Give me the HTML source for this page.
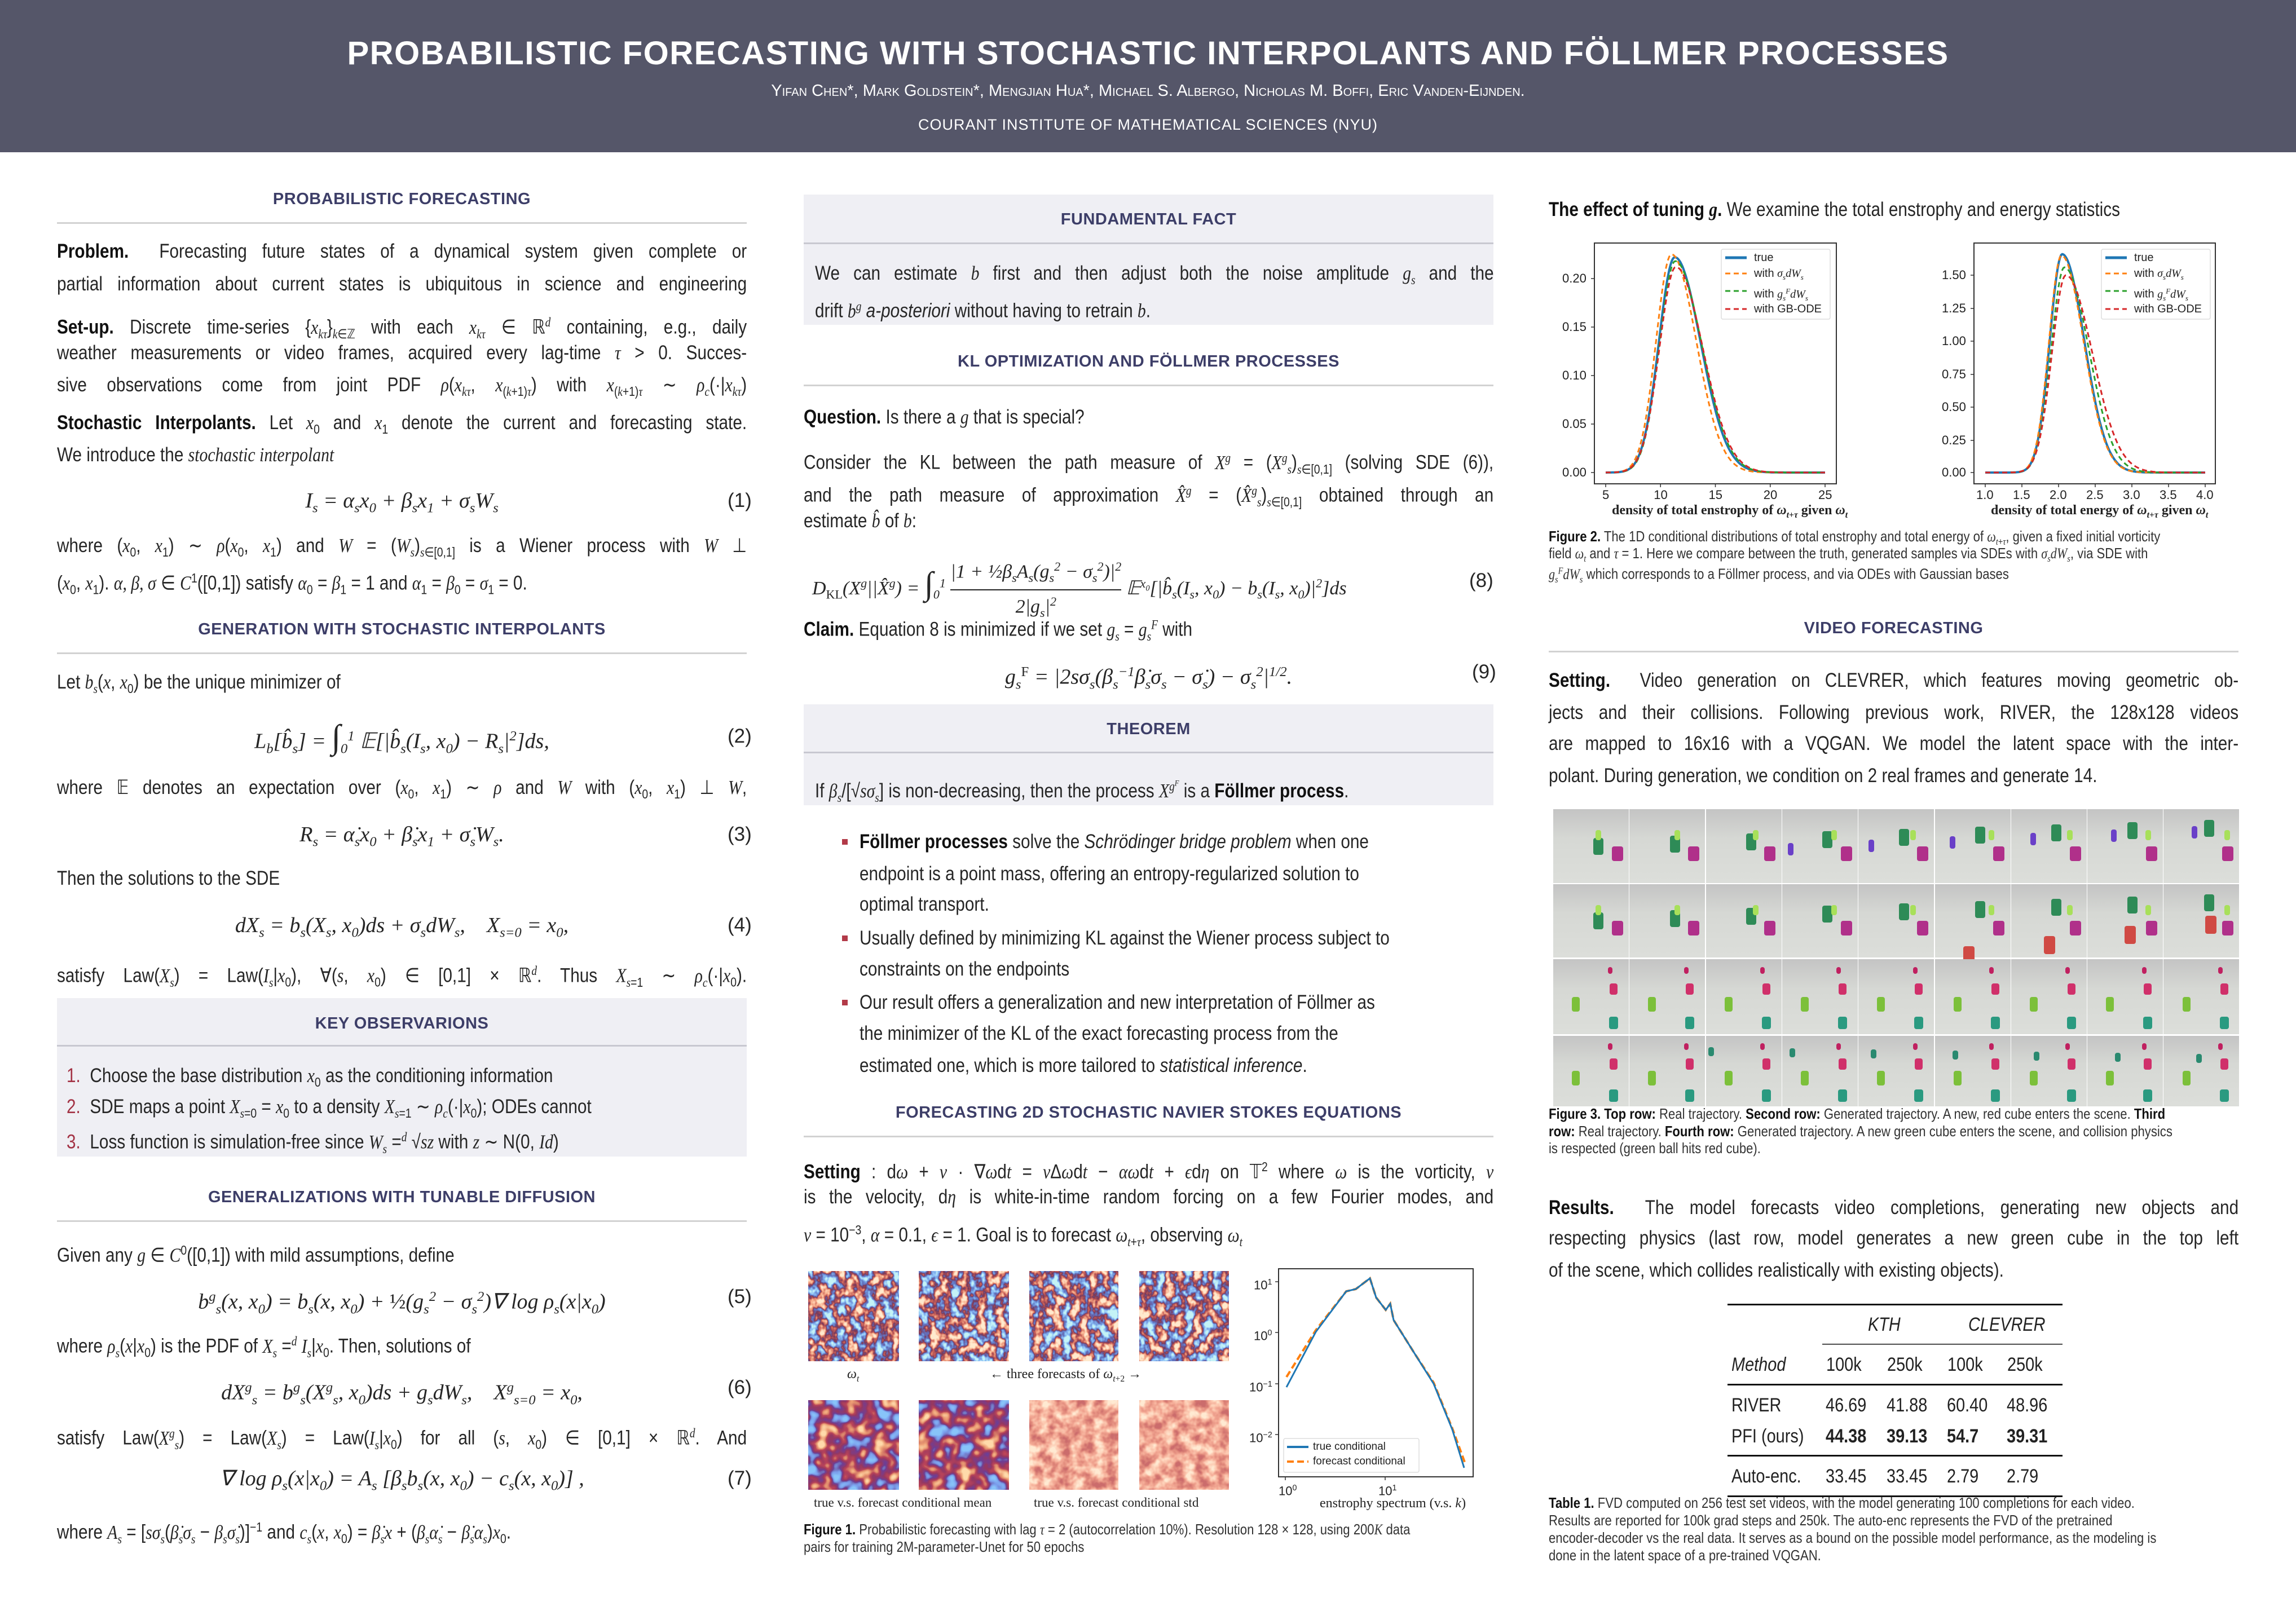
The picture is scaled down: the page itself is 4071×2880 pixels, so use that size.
<!DOCTYPE html>
<html><head><meta charset="utf-8">
<style>
*{margin:0;padding:0;box-sizing:border-box}
body{width:4071px;height:2880px;position:relative;background:#fff;overflow:hidden;font-family:"Liberation Sans",sans-serif;color:#262626}
.a{position:absolute}
#hd{left:0;top:0;width:4071px;height:270px;background:#555669}
.L{position:absolute;font-size:35px;line-height:44px;white-space:nowrap;transform:scaleX(.85);transform-origin:left top;color:#262626}
.c1{left:101px}.c2{left:1425px}.c3{left:2746px}
.J{width:1439px;text-align:justify;text-align-last:justify}
.H{position:absolute;width:1223px;text-align:center;font-weight:bold;font-size:29px;line-height:36px;color:#3d3e68;letter-spacing:.5px}
.R{position:absolute;width:1223px;height:3px;background:#d2d2d2}
.E{position:absolute;width:1223px;text-align:center;font-family:"Liberation Serif",serif;font-style:italic;font-size:38px;line-height:50px;white-space:nowrap}
.N{position:absolute;font-size:35px;line-height:50px;color:#262626}
.box{position:absolute;background:#efeff4}
i,.m{font-family:"Liberation Serif",serif;font-style:italic}
b{font-weight:bold;color:#111}
sub,sup{font-size:65%}
.cap{position:absolute;font-size:26px;line-height:30px;white-space:nowrap;transform:scaleX(.85);transform-origin:left top;color:#333}
.tk{position:absolute;font-size:22px;line-height:24px;color:#222;white-space:nowrap}
.fr{position:absolute;width:134px;height:130px;background:linear-gradient(#c4c4c4,#d6d8d4 40%,#dcdeda)}
.ob{position:absolute;border-radius:4px}
</style></head><body>
<div id="hd" class="a"></div>
<div class="a" style="left:0;top:62px;width:4071px;text-align:center;color:#fff;font-weight:bold;font-size:58px;line-height:66px;letter-spacing:1.5px">PROBABILISTIC FORECASTING WITH STOCHASTIC INTERPOLANTS AND FÖLLMER PROCESSES</div>
<div class="a" style="left:0;top:144px;width:4071px;text-align:center;color:#fff;font-size:29px;line-height:34px;font-variant:small-caps">Yifan Chen*, Mark Goldstein*, Mengjian Hua*, Michael S. Albergo, Nicholas M. Boffi, Eric Vanden-Eijnden.</div>
<div class="a" style="left:0;top:204px;width:4071px;text-align:center;color:#fff;font-size:27px;line-height:34px;letter-spacing:1px">COURANT INSTITUTE OF MATHEMATICAL SCIENCES (NYU)</div>

<!-- COLUMN 1 -->
<div class="H c1" style="top:335px">PROBABILISTIC FORECASTING</div>
<div class="R c1" style="top:394px"></div>
<div class="L c1 J" style="top:424px"><b>Problem.</b>&nbsp; Forecasting future states of a dynamical system given complete or</div>
<div class="L c1 J" style="top:482px">partial information about current states is ubiquitous in science and engineering</div>
<div class="L c1 J" style="top:549px"><b>Set-up.</b> Discrete time-series {<i>x<sub>kτ</sub></i>}<sub><i>k</i>∈ℤ</sub> with each <i>x<sub>kτ</sub></i> ∈ ℝ<sup><i>d</i></sup> containing, e.g., daily</div>
<div class="L c1 J" style="top:604px">weather measurements or video frames, acquired every lag-time <i>τ</i> &gt; 0. Succes-</div>
<div class="L c1 J" style="top:661px">sive observations come from joint PDF <i>ρ</i>(<i>x<sub>kτ</sub></i>, <i>x</i><sub>(<i>k</i>+1)<i>τ</i></sub>) with <i>x</i><sub>(<i>k</i>+1)<i>τ</i></sub> ∼ <i>ρ<sub>c</sub></i>(·|<i>x<sub>kτ</sub></i>)</div>
<div class="L c1 J" style="top:728px"><b>Stochastic Interpolants.</b> Let <i>x</i><sub>0</sub> and <i>x</i><sub>1</sub> denote the current and forecasting state.</div>
<div class="L c1" style="top:785px">We introduce the <i>stochastic interpolant</i></div>
<div class="E c1" style="top:863px">I<sub>s</sub> = α<sub>s</sub>x<sub>0</sub> + β<sub>s</sub>x<sub>1</sub> + σ<sub>s</sub>W<sub>s</sub></div>
<div class="N" style="left:1290px;top:863px">(1)</div>
<div class="L c1 J" style="top:946px">where (<i>x</i><sub>0</sub>, <i>x</i><sub>1</sub>) ∼ <i>ρ</i>(<i>x</i><sub>0</sub>, <i>x</i><sub>1</sub>) and <i>W</i> = (<i>W<sub>s</sub></i>)<sub><i>s</i>∈[0,1]</sub> is a Wiener process with <i>W</i> ⊥</div>
<div class="L c1" style="top:1003px">(<i>x</i><sub>0</sub>, <i>x</i><sub>1</sub>). <i>α, β, σ</i> ∈ <i>C</i><sup>1</sup>([0,1]) satisfy <i>α</i><sub>0</sub> = <i>β</i><sub>1</sub> = 1 and <i>α</i><sub>1</sub> = <i>β</i><sub>0</sub> = <i>σ</i><sub>1</sub> = 0.</div>
<div class="H c1" style="top:1098px">GENERATION WITH STOCHASTIC INTERPOLANTS</div>
<div class="R c1" style="top:1157px"></div>
<div class="L c1" style="top:1188px">Let <i>b<sub>s</sub></i>(<i>x</i>, <i>x</i><sub>0</sub>) be the unique minimizer of</div>
<div class="E c1" style="top:1281px">L<sub>b</sub>[b̂<sub>s</sub>] = <span style="font-size:60px;font-style:normal">∫</span><sub>0</sub><sup>1</sup> 𝔼[|b̂<sub>s</sub>(I<sub>s</sub>, x<sub>0</sub>) − R<sub>s</sub>|<sup>2</sup>]ds,</div>
<div class="N" style="left:1290px;top:1281px">(2)</div>
<div class="L c1 J" style="top:1375px">where 𝔼 denotes an expectation over (<i>x</i><sub>0</sub>, <i>x</i><sub>1</sub>) ∼ <i>ρ</i> and <i>W</i> with (<i>x</i><sub>0</sub>, <i>x</i><sub>1</sub>) ⊥ <i>W</i>,</div>
<div class="E c1" style="top:1455px">R<sub>s</sub> = α̇<sub>s</sub>x<sub>0</sub> + β̇<sub>s</sub>x<sub>1</sub> + σ̇<sub>s</sub>W<sub>s</sub>.</div>
<div class="N" style="left:1290px;top:1455px">(3)</div>
<div class="L c1" style="top:1536px">Then the solutions to the SDE</div>
<div class="E c1" style="top:1616px">dX<sub>s</sub> = b<sub>s</sub>(X<sub>s</sub>, x<sub>0</sub>)ds + σ<sub>s</sub>dW<sub>s</sub>, &nbsp;&nbsp; X<sub>s=0</sub> = x<sub>0</sub>,</div>
<div class="N" style="left:1290px;top:1616px">(4)</div>
<div class="L c1 J" style="top:1699px">satisfy Law(<i>X<sub>s</sub></i>) = Law(<i>I<sub>s</sub></i>|<i>x</i><sub>0</sub>), ∀(<i>s</i>, <i>x</i><sub>0</sub>) ∈ [0,1] × ℝ<sup><i>d</i></sup>. Thus <i>X</i><sub><i>s</i>=1</sub> ∼ <i>ρ<sub>c</sub></i>(·|<i>x</i><sub>0</sub>).</div>
<div class="box" style="left:101px;top:1770px;width:1223px;height:281px"></div>
<div class="H c1" style="top:1797px">KEY OBSERVARIONS</div>
<div class="R c1" style="top:1853px;background:#c8c8d0"></div>
<div class="L" style="left:118px;top:1886px"><span style="color:#a33345">1.</span>&nbsp; Choose the base distribution <i>x</i><sub>0</sub> as the conditioning information</div>
<div class="L" style="left:118px;top:1941px"><span style="color:#a33345">2.</span>&nbsp; SDE maps a point <i>X</i><sub><i>s</i>=0</sub> = <i>x</i><sub>0</sub> to a density <i>X</i><sub><i>s</i>=1</sub> ∼ <i>ρ<sub>c</sub></i>(·|<i>x</i><sub>0</sub>); ODEs cannot</div>
<div class="L" style="left:118px;top:1994px"><span style="color:#a33345">3.</span>&nbsp; Loss function is simulation-free since <i>W<sub>s</sub></i> =<sup><i>d</i></sup> √<i>sz</i> with <i>z</i> ∼ N(0, <i>Id</i>)</div>
<div class="H c1" style="top:2105px">GENERALIZATIONS WITH TUNABLE DIFFUSION</div>
<div class="R c1" style="top:2164px"></div>
<div class="L c1" style="top:2195px">Given any <i>g</i> ∈ <i>C</i><sup>0</sup>([0,1]) with mild assumptions, define</div>
<div class="E c1" style="top:2275px">b<sup>g</sup><sub>s</sub>(x, x<sub>0</sub>) = b<sub>s</sub>(x, x<sub>0</sub>) + <span style="font-style:normal">½</span>(g<sub>s</sub><sup>2</sup> − σ<sub>s</sub><sup>2</sup>)∇ log ρ<sub>s</sub>(x|x<sub>0</sub>)</div>
<div class="N" style="left:1290px;top:2275px">(5)</div>
<div class="L c1" style="top:2356px">where <i>ρ<sub>s</sub></i>(<i>x</i>|<i>x</i><sub>0</sub>) is the PDF of <i>X<sub>s</sub></i> =<sup><i>d</i></sup> <i>I<sub>s</sub></i>|<i>x</i><sub>0</sub>. Then, solutions of</div>
<div class="E c1" style="top:2436px">dX<sup>g</sup><sub>s</sub> = b<sup>g</sup><sub>s</sub>(X<sup>g</sup><sub>s</sub>, x<sub>0</sub>)ds + g<sub>s</sub>dW<sub>s</sub>, &nbsp;&nbsp; X<sup>g</sup><sub>s=0</sub> = x<sub>0</sub>,</div>
<div class="N" style="left:1290px;top:2436px">(6)</div>
<div class="L c1 J" style="top:2519px">satisfy Law(<i>X<sup>g</sup><sub>s</sub></i>) = Law(<i>X<sub>s</sub></i>) = Law(<i>I<sub>s</sub></i>|<i>x</i><sub>0</sub>) for all (<i>s</i>, <i>x</i><sub>0</sub>) ∈ [0,1] × ℝ<sup><i>d</i></sup>. And</div>
<div class="E c1" style="top:2597px">∇ log ρ<sub>s</sub>(x|x<sub>0</sub>) = A<sub>s</sub> [β<sub>s</sub>b<sub>s</sub>(x, x<sub>0</sub>) − c<sub>s</sub>(x, x<sub>0</sub>)] ,</div>
<div class="N" style="left:1290px;top:2597px">(7)</div>
<div class="L c1" style="top:2686px">where <i>A<sub>s</sub></i> = [<i>sσ<sub>s</sub></i>(<i>β̇<sub>s</sub>σ<sub>s</sub></i> − <i>β<sub>s</sub>σ̇<sub>s</sub></i>)]<sup>−1</sup> and <i>c<sub>s</sub></i>(<i>x</i>, <i>x</i><sub>0</sub>) = <i>β̇<sub>s</sub>x</i> + (<i>β<sub>s</sub>α̇<sub>s</sub></i> − <i>β̇<sub>s</sub>α<sub>s</sub></i>)<i>x</i><sub>0</sub>.</div>

<!-- COLUMN 2 -->
<div class="box" style="left:1425px;top:345px;width:1223px;height:231px"></div>
<div class="H c2" style="top:371px">FUNDAMENTAL FACT</div>
<div class="R c2" style="top:430px;background:#c8c8d0"></div>
<div class="L" style="left:1445px;top:463px;width:1416px;text-align:justify;text-align-last:justify">We can estimate <i>b</i> first and then adjust both the noise amplitude <i>g<sub>s</sub></i> and the</div>
<div class="L" style="left:1445px;top:521px">drift <i>b<sup>g</sup></i> <i style="font-family:'Liberation Sans'">a-posteriori</i> without having to retrain <i>b</i>.</div>
<div class="H c2" style="top:623px">KL OPTIMIZATION AND FÖLLMER PROCESSES</div>
<div class="R c2" style="top:682px"></div>
<div class="L c2" style="top:718px"><b>Question.</b> Is there a <i>g</i> that is special?</div>
<div class="L c2 J" style="top:790px">Consider the KL between the path measure of <i>X<sup>g</sup></i> = (<i>X<sup>g</sup><sub>s</sub></i>)<sub><i>s</i>∈[0,1]</sub> (solving SDE (6)),</div>
<div class="L c2 J" style="top:848px">and the path measure of approximation <i>X̂<sup>g</sup></i> = (<i>X̂<sup>g</sup><sub>s</sub></i>)<sub><i>s</i>∈[0,1]</sub> obtained through an</div>
<div class="L c2" style="top:902px">estimate <i>b̂</i> of <i>b</i>:</div>
<div class="E" style="left:1440px;width:1150px;top:985px;text-align:left;font-size:34px">D<sub style="font-style:normal">KL</sub>(X<sup>g</sup>||X̂<sup>g</sup>) = <span style="font-size:58px;font-style:normal">∫</span><sub>0</sub><sup>1</sup> <span style="display:inline-block;text-align:center;vertical-align:middle;line-height:40px"><span style="display:block;border-bottom:2px solid #222">|1 + ½β<sub>s</sub>A<sub>s</sub>(g<sub>s</sub><sup>2</sup> − σ<sub>s</sub><sup>2</sup>)|<sup>2</sup></span><span style="display:block">2|g<sub>s</sub>|<sup>2</sup></span></span> 𝔼<sup>x<sub>0</sub></sup>[|b̂<sub>s</sub>(I<sub>s</sub>, x<sub>0</sub>) − b<sub>s</sub>(I<sub>s</sub>, x<sub>0</sub>)|<sup>2</sup>]ds</div>
<div class="N" style="left:2605px;top:1005px">(8)</div>
<div class="L c2" style="top:1086px"><b>Claim.</b> Equation 8 is minimized if we set <i>g<sub>s</sub></i> = <i>g<sub>s</sub><sup>F</sup></i> with</div>
<div class="E c2" style="top:1167px">g<sub>s</sub><sup style="font-style:normal">F</sup> = |2sσ<sub>s</sub>(β<sub>s</sub><sup>−1</sup>β̇<sub>s</sub>σ<sub>s</sub> − σ̇<sub>s</sub>) − σ<sub>s</sub><sup>2</sup>|<sup>1/2</sup>.</div>
<div class="N" style="left:2610px;top:1167px">(9)</div>
<div class="box" style="left:1425px;top:1249px;width:1223px;height:179px"></div>
<div class="H c2" style="top:1275px">THEOREM</div>
<div class="R c2" style="top:1333px;background:#c8c8d0"></div>
<div class="L" style="left:1445px;top:1367px">If <i>β<sub>s</sub></i>/[√<i>sσ<sub>s</sub></i>] is non-decreasing, then the process <i>X<sup>g<sup>F</sup></sup></i> is a <b>Föllmer process</b>.</div>
<div class="a" style="left:1493px;top:1488px;width:10px;height:10px;background:#b23a48"></div>
<div class="L" style="left:1524px;top:1471px"><b>Föllmer processes</b> solve the <i style="font-family:'Liberation Sans'">Schrödinger bridge problem</i> when one</div>
<div class="L" style="left:1524px;top:1528px">endpoint is a point mass, offering an entropy-regularized solution to</div>
<div class="L" style="left:1524px;top:1582px">optimal transport.</div>
<div class="a" style="left:1493px;top:1659px;width:10px;height:10px;background:#b23a48"></div>
<div class="L" style="left:1524px;top:1642px">Usually defined by minimizing KL against the Wiener process subject to</div>
<div class="L" style="left:1524px;top:1697px">constraints on the endpoints</div>
<div class="a" style="left:1493px;top:1773px;width:10px;height:10px;background:#b23a48"></div>
<div class="L" style="left:1524px;top:1756px">Our result offers a generalization and new interpretation of Föllmer as</div>
<div class="L" style="left:1524px;top:1811px">the minimizer of the KL of the exact forecasting process from the</div>
<div class="L" style="left:1524px;top:1868px">estimated one, which is more tailored to <i style="font-family:'Liberation Sans'">statistical inference</i>.</div>
<div class="H c2" style="top:1955px">FORECASTING 2D STOCHASTIC NAVIER STOKES EQUATIONS</div>
<div class="R c2" style="top:2014px"></div>
<div class="L c2 J" style="top:2047px"><b>Setting</b> : d<i>ω</i> + <i>v</i> · ∇<i>ω</i>d<i>t</i> = <i>ν</i>Δ<i>ω</i>d<i>t</i> − <i>αω</i>d<i>t</i> + <i>ϵ</i>d<i>η</i> on 𝕋<sup>2</sup> where <i>ω</i> is the vorticity, <i>v</i></div>
<div class="L c2 J" style="top:2101px">is the velocity, d<i>η</i> is white-in-time random forcing on a few Fourier modes, and</div>
<div class="L c2" style="top:2159px"><i>ν</i> = 10<sup>−3</sup>, <i>α</i> = 0.1, <i>ϵ</i> = 1. Goal is to forecast <i>ω</i><sub><i>t</i>+<i>τ</i></sub>, observing <i>ω<sub>t</sub></i></div>

<svg class="a" style="left:0;top:0" width="4071" height="2880">
<defs>
<filter id="vort" x="0" y="0" width="100%" height="100%">
<feTurbulence type="fractalNoise" baseFrequency="0.06 0.05" numOctaves="3" seed="3"/>
<feColorMatrix type="matrix" values="2.2 0 0 0 -0.6 2.2 0 0 0 -0.6 2.2 0 0 0 -0.6 0 0 0 0 1"/>
<feComponentTransfer><feFuncR type="table" tableValues="0.55 0.25 0.12 0.18 0.6 0.95 1"/><feFuncG type="table" tableValues="0.9 0.5 0.18 0.04 0.12 0.45 0.82"/><feFuncB type="table" tableValues="0.92 0.92 0.55 0.1 0.1 0.28 0.62"/><feFuncA type="discrete" tableValues="1"/></feComponentTransfer>
</filter>
<filter id="vort2" x="0" y="0" width="100%" height="100%">
<feTurbulence type="fractalNoise" baseFrequency="0.04" numOctaves="2" seed="8"/>
<feColorMatrix type="matrix" values="2 0 0 0 -0.5 2 0 0 0 -0.5 2 0 0 0 -0.5 0 0 0 0 1"/>
<feComponentTransfer><feFuncR type="table" tableValues="0.25 0.2 0.15 0.3 0.5 0.85 1"/><feFuncG type="table" tableValues="0.55 0.35 0.05 0.04 0.06 0.35 0.7"/><feFuncB type="table" tableValues="0.95 0.85 0.3 0.12 0.1 0.18 0.4"/><feFuncA type="discrete" tableValues="1"/></feComponentTransfer>
</filter>
<filter id="stdf" x="0" y="0" width="100%" height="100%">
<feTurbulence type="fractalNoise" baseFrequency="0.05" numOctaves="3" seed="5"/>
<feColorMatrix type="matrix" values="2 0 0 0 -0.5 2 0 0 0 -0.5 2 0 0 0 -0.5 0 0 0 0 1"/>
<feComponentTransfer><feFuncR type="table" tableValues="1 0.98 0.9 0.75 0.6"/><feFuncG type="table" tableValues="0.82 0.6 0.4 0.25 0.15"/><feFuncB type="table" tableValues="0.65 0.45 0.3 0.2 0.15"/><feFuncA type="discrete" tableValues="1"/></feComponentTransfer>
</filter>
</defs>
<rect x="1433" y="2254" width="161" height="160" filter="url(#vort)"/>
<rect x="1629" y="2254" width="160" height="160" filter="url(#vort)"/>
<rect x="1825" y="2254" width="158" height="160" filter="url(#vort)"/>
<rect x="2020" y="2254" width="159" height="160" filter="url(#vort)"/>
<rect x="1433" y="2483" width="161" height="159" filter="url(#vort2)"/>
<rect x="1629" y="2483" width="160" height="159" filter="url(#vort2)"/>
<rect x="1825" y="2483" width="158" height="159" filter="url(#stdf)"/>
<rect x="2020" y="2483" width="159" height="159" filter="url(#stdf)"/>
<rect x="2267" y="2250" width="345" height="369" fill="none" stroke="#333" stroke-width="2"/>
<g stroke="#333" stroke-width="1.5">
<line x1="2267" y1="2273" x2="2261" y2="2273"/><line x1="2267" y1="2363" x2="2261" y2="2363"/><line x1="2267" y1="2454" x2="2261" y2="2454"/><line x1="2267" y1="2544" x2="2261" y2="2544"/>
<line x1="2279" y1="2619" x2="2279" y2="2625"/><line x1="2456" y1="2619" x2="2456" y2="2625"/>
</g>
<polyline fill="none" stroke="#ff7f0e" stroke-width="4" stroke-dasharray="12,6" points="2281,2442 2333,2359 2387,2290 2404,2286 2429,2267 2440,2301 2457,2323 2465,2312 2471,2341 2508,2400 2542,2452 2575,2533 2597,2593"/>
<polyline fill="none" stroke="#1f77b4" stroke-width="3" points="2281,2460 2333,2362 2387,2290 2404,2286 2429,2267 2440,2301 2457,2323 2465,2312 2471,2341 2508,2400 2542,2454 2575,2535 2596,2603"/>
<rect x="2276" y="2551" width="240" height="60" fill="#fff" stroke="#ddd" stroke-width="1.5" rx="3"/>
<line x1="2282" y1="2566" x2="2320" y2="2566" stroke="#1f77b4" stroke-width="4"/>
<line x1="2282" y1="2592" x2="2320" y2="2592" stroke="#ff7f0e" stroke-width="4" stroke-dasharray="12,6"/>
<rect x="2827" y="431" width="429" height="427" fill="none" stroke="#333" stroke-width="2"/>
<rect x="3500" y="431" width="428" height="427" fill="none" stroke="#333" stroke-width="2"/>
<g id="ticks" stroke="#333" stroke-width="1.5"></g>
<g id="curves" fill="none"></g>
<rect x="3052" y="442" width="193" height="124" fill="#fff" stroke="#ddd" stroke-width="1.5" rx="3"/>
<rect x="3726" y="442" width="193" height="124" fill="#fff" stroke="#ddd" stroke-width="1.5" rx="3"/>
<g id="leg"></g>
<g fill="#111"><rect x="3063" y="2312" width="594" height="3"/><rect x="3231" y="2383" width="426" height="1.5"/><rect x="3063" y="2454" width="594" height="3"/><rect x="3063" y="2580" width="594" height="3"/><rect x="3063" y="2652" width="594" height="3"/></g>
</svg>
<div class="tk" style="left:2223px;top:2262px">10<sup>1</sup></div>
<div class="tk" style="left:2223px;top:2352px">10<sup>0</sup></div>
<div class="tk" style="left:2215px;top:2443px">10<sup>−1</sup></div>
<div class="tk" style="left:2215px;top:2533px">10<sup>−2</sup></div>
<div class="tk" style="left:2267px;top:2627px">10<sup>0</sup></div>
<div class="tk" style="left:2444px;top:2627px">10<sup>1</sup></div>
<div class="tk" style="left:2328px;top:2554px;font-size:19px">true conditional</div>
<div class="tk" style="left:2328px;top:2580px;font-size:19px">forecast conditional</div>
<div class="tk m" style="left:2340px;top:2654px;font-style:normal;font-size:24px">enstrophy spectrum (v.s. <i>k</i>)</div>
<div class="tk m" style="left:1502px;top:2425px;font-size:24px">ω<sub>t</sub></div>
<div class="tk m" style="left:1755px;top:2425px;font-style:normal;font-size:24px">← three forecasts of <i>ω</i><sub><i>t</i>+2</sub> →</div>
<div class="tk m" style="left:1443px;top:2653px;font-style:normal;font-size:23px">true v.s. forecast conditional mean</div>
<div class="tk m" style="left:1833px;top:2653px;font-style:normal;font-size:23px">true v.s. forecast conditional std</div>
<div class="cap" style="left:1425px;top:2697px"><b>Figure 1.</b> Probabilistic forecasting with lag <i>τ</i> = 2 (autocorrelation 10%). Resolution 128 × 128, using 200<i>K</i> data</div>
<div class="cap" style="left:1425px;top:2728px">pairs for training 2M-parameter-Unet for 50 epochs</div>

<!-- COLUMN 3 -->
<div class="L c3" style="top:350px"><b>The effect of tuning <i>g</i>.</b> We examine the total enstrophy and energy statistics</div>
<div class="tk m" style="left:2858px;top:893px;font-style:normal;font-size:24px;font-weight:bold">density of total enstrophy of <i>ω</i><sub><i>t</i>+<i>τ</i></sub> given <i>ω<sub>t</sub></i></div>
<div class="tk m" style="left:3530px;top:893px;font-style:normal;font-size:24px;font-weight:bold">density of total energy of <i>ω</i><sub><i>t</i>+<i>τ</i></sub> given <i>ω<sub>t</sub></i></div>
<div class="cap" style="left:2746px;top:936px"><b>Figure 2.</b> The 1D conditional distributions of total enstrophy and total energy of <i>ω</i><sub><i>t</i>+<i>τ</i></sub>, given a fixed initial vorticity</div>
<div class="cap" style="left:2746px;top:966px">field <i>ω<sub>t</sub></i> and <i>τ</i> = 1. Here we compare between the truth, generated samples via SDEs with <i>σ<sub>s</sub>dW<sub>s</sub></i>, via SDE with</div>
<div class="cap" style="left:2746px;top:997px"><i>g<sub>s</sub><sup>F</sup>dW<sub>s</sub></i> which corresponds to a Föllmer process, and via ODEs with Gaussian bases</div>
<div class="H c3" style="top:1096px">VIDEO FORECASTING</div>
<div class="R c3" style="top:1154px"></div>
<div class="L c3 J" style="top:1185px"><b>Setting.</b>&nbsp; Video generation on CLEVRER, which features moving geometric ob-</div>
<div class="L c3 J" style="top:1242px">jects and their collisions. Following previous work, RIVER, the 128x128 videos</div>
<div class="L c3 J" style="top:1297px">are mapped to 16x16 with a VQGAN. We model the latent space with the inter-</div>
<div class="L c3" style="top:1354px">polant. During generation, we condition on 2 real frames and generate 14.</div>
<div id="grid"></div>
<div class="cap" style="left:2746px;top:1960px"><b>Figure 3. Top row:</b> Real trajectory. <b>Second row:</b> Generated trajectory. A new, red cube enters the scene. <b>Third</b></div>
<div class="cap" style="left:2746px;top:1991px"><b>row:</b> Real trajectory. <b>Fourth row:</b> Generated trajectory. A new green cube enters the scene, and collision physics</div>
<div class="cap" style="left:2746px;top:2021px">is respected (green ball hits red cube).</div>
<div class="L c3 J" style="top:2120px"><b>Results.</b>&nbsp; The model forecasts video completions, generating new objects and</div>
<div class="L c3 J" style="top:2174px">respecting physics (last row, model generates a new green cube in the top left</div>
<div class="L c3" style="top:2231px">of the scene, which collides realistically with existing objects).</div>
<div class="cap" style="left:2746px;top:2650px"><b>Table 1.</b> FVD computed on 256 test set videos, with the model generating 100 completions for each video.</div>
<div class="cap" style="left:2746px;top:2681px">Results are reported for 100k grad steps and 250k. The auto-enc represents the FVD of the pretrained</div>
<div class="cap" style="left:2746px;top:2712px">encoder-decoder vs the real data. It serves as a bound on the possible model performance, as the modeling is</div>
<div class="cap" style="left:2746px;top:2743px">done in the latent space of a pre-trained VQGAN.</div>

<script>
var NS="http://www.w3.org/2000/svg";
function el(p,t,a){var e=document.createElementNS(NS,t);for(var k in a)e.setAttribute(k,a[k]);p.appendChild(e);return e;}
var tk=document.getElementById('ticks'),cv=document.getElementById('curves'),lg=document.getElementById('leg');
function div(l,t,txt,st){var d=document.createElement('div');d.className='tk';d.style.left=l+'px';d.style.top=t+'px';d.innerHTML=txt;if(st)d.style.cssText+=st;document.body.appendChild(d);}
[[0.2,494],[0.15,580],[0.1,666],[0.05,752],[0,838]].forEach(function(p){el(tk,'line',{x1:2827,y1:p[1],x2:2821,y2:p[1]});div(2770,p[1]-12,p[0].toFixed(2));});
[5,10,15,20,25].forEach(function(v){var x=2847+(v-5)*19.45;el(tk,'line',{x1:x,y1:858,x2:x,y2:864});div(x-(v<10?6:12),866,v);});
[[1.5,488],[1.25,547],[1,605],[0.75,664],[0.5,722],[0.25,781],[0,838]].forEach(function(p){el(tk,'line',{x1:3500,y1:p[1],x2:3494,y2:p[1]});div(3443,p[1]-12,p[0].toFixed(2));});
for(var v=1;v<=4.01;v+=0.5){var x=3520+(v-1)*130;el(tk,'line',{x1:x,y1:858,x2:x,y2:864});div(x-16,866,v.toFixed(1));}
function curve(x0,x1,pk,h,sl,sr,X,Y,col,dash,w){var pts=[];for(var i=0;i<=200;i++){var v=x0+(x1-x0)*i/200;var s=v<pk?sl:sr;var f=h*Math.exp(-0.5*Math.pow((v-pk)/s,2));pts.push(X(v).toFixed(1)+','+Y(f).toFixed(1));}
var a={points:pts.join(' '),stroke:col,'stroke-width':w};if(dash)a['stroke-dasharray']=dash;el(cv,'polyline',a);}
var X1=function(v){return 2847+(v-5)*19.45},Y1=function(f){return 838-f*1720};
var X2=function(v){return 3520+(v-1)*130},Y2=function(f){return 838-f*233.3};
var C=[['#1f77b4',null,4],['#ff7f0e','9,6',3],['#2ca02c','9,6',3],['#d62728','9,6',3]];
var P1=[[11.3,0.222,1.45,2.35],[11.0,0.225,1.4,2.25],[11.35,0.218,1.45,2.4],[11.4,0.212,1.5,2.45]];
var P2=[[2.05,1.66,0.17,0.3],[2.04,1.65,0.17,0.3],[2.08,1.56,0.18,0.33],[2.1,1.50,0.19,0.36]];
for(var i=0;i<4;i++){curve(5,25,P1[i][0],P1[i][1],P1[i][2],P1[i][3],X1,Y1,C[i][0],C[i][1],C[i][2]);curve(1,4,P2[i][0],P2[i][1],P2[i][2],P2[i][3],X2,Y2,C[i][0],C[i][1],C[i][2]);}
var lab=['true','with <i>σ<sub>s</sub>dW<sub>s</sub></i>','with <i>g<sub>s</sub><sup>F</sup>dW<sub>s</sub></i>','with GB-ODE'];
[3052,3726].forEach(function(bx){[457,485,516,548].forEach(function(y,i){var a={x1:bx+7,y1:y,x2:bx+45,y2:y,stroke:C[i][0],'stroke-width':i?3:5};if(C[i][1])a['stroke-dasharray']=C[i][1];el(lg,'line',a);div(bx+58,y-12,lab[i],'font-size:20px');});});
var g=document.getElementById('grid');
var rows=[[1435,131],[1568,130],[1701,133],[1837,125]];
var objs=[
[[0.6,0.5,'#2e8b57',18,30],[0.85,0.6,'#b0308a',20,26],[0.6,0.35,'#a8e05a',10,18]],
[[0.6,0.5,'#2e8b57',18,30],[0.85,0.6,'#b0308a',20,26],[0.6,0.35,'#a8e05a',10,18]],
[[0.8,0.4,'#d0306a',14,20],[0.75,0.15,'#c02060',8,12],[0.3,0.6,'#7cc03a',14,26],[0.8,0.85,'#2a9a80',16,22]],
[[0.8,0.4,'#d0306a',14,20],[0.75,0.15,'#c02060',8,12],[0.3,0.6,'#7cc03a',14,26],[0.8,0.85,'#2a9a80',16,22]]];
rows.forEach(function(r,ri){for(var c=0;c<9;c++){var d=document.createElement('div');d.className='fr';d.style.left=(2754+c*135.3)+'px';d.style.top=r[0]+'px';d.style.height=r[1]+'px';
objs[ri].forEach(function(o,oi){var s=document.createElement('div');s.className='ob';s.style.left=(o[0]*134-o[3]/2+(oi==2&&ri<2?c*4:0))+'px';s.style.top=(o[1]*r[1]-o[4]/2-(ri<2?c*4:0)*(oi==0?1:0))+'px';s.style.width=o[3]+'px';s.style.height=o[4]+'px';s.style.background=o[2];d.appendChild(s);});
if(ri==1&&c>=5){var s=document.createElement('div');s.className='ob';s.style.cssText='left:'+(50+(c-5)*8)+'px;top:'+(110-(c-5)*18)+'px;width:20px;height:32px;background:#d04a44';d.appendChild(s);}
if(ri==0&&c>=3){var s=document.createElement('div');s.className='ob';s.style.cssText='left:'+(10+(c-3)*8)+'px;top:'+(60-(c-3)*6)+'px;width:10px;height:22px;background:#6a40c8';d.appendChild(s);}
if(ri==3&&c>=2){var s=document.createElement('div');s.className='ob';s.style.cssText='left:'+(4+(c-2)*9)+'px;top:'+(20+(c-2)*2)+'px;width:10px;height:16px;background:#2a8a70';d.appendChild(s);}
g.appendChild(d);}});
function td(x,y,txt,st){div(x,y-20,txt,'font-size:34px;line-height:40px;color:#222;transform:scaleX(.85);transform-origin:left top;'+(st||''));}
td(3312,2349,'<i style="font-family:Liberation Sans">KTH</i>');td(3490,2349,'<i style="font-family:Liberation Sans">CLEVRER</i>');
td(3070,2420,'<i style="font-family:Liberation Sans">Method</i>');
[['100k',3238],['250k',3346],['100k',3453],['250k',3559]].forEach(function(a){td(a[1],2420,a[0]);});
var R=[['RIVER',2492,['46.69','41.88','60.40','48.96'],''],['PFI (ours)',2547,['44.38','39.13','54.7','39.31'],'font-weight:bold'],['Auto-enc.',2618,['33.45','33.45','2.79','2.79'],'']];
R.forEach(function(r){td(3070,r[1],r[0]);[3237,3345,3452,3558].forEach(function(x,i){td(x,r[1],r[2][i],r[3]);});});
</script>
</body></html>
